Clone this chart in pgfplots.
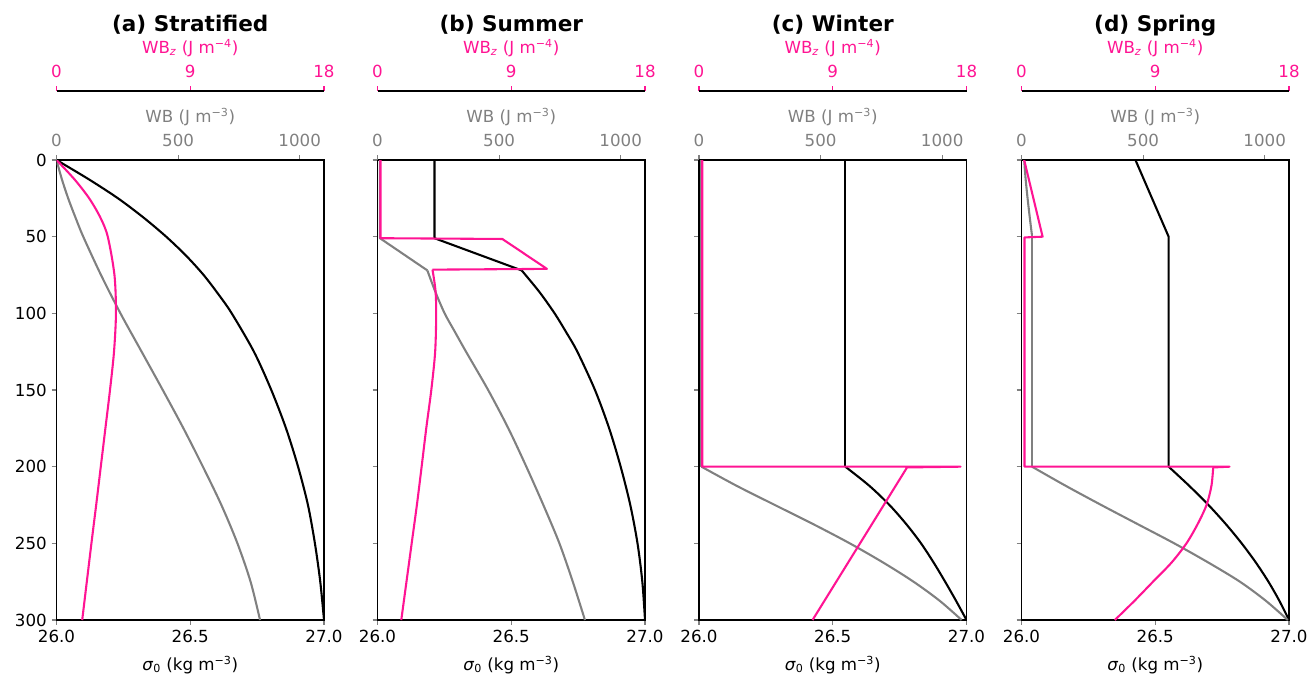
\documentclass[border=0pt]{standalone}
\usepackage{fontspec}
\setmainfont{DejaVu Sans}
\usepackage{pgfplots}
\pgfplotsset{compat=1.18}
\definecolor{wbz}{RGB}{255,20,147}
\definecolor{wbg}{RGB}{128,128,128}
\pgfplotsset{
  common/.style={scale only axis, width=192.6pt, height=331.2pt, ymin=0, ymax=300, y dir=reverse,
    anchor=north west, tick align=outside, major tick length=3.5pt,
    every tick/.append style={line width=0.8pt}, axis line style={line width=0.8pt},
    ticklabel style={font=\fontsize{12}{14}\selectfont},
    label style={font=\fontsize{12}{14}\selectfont},
    /pgf/number format/assume math mode=true},
  mainax/.style={common, xmin=26, xmax=27, xtick={26,26.5,27}, xticklabels={26.0,26.5,27.0},
    xtick pos=bottom, ytick={0,50,100,150,200,250,300}, ytick pos=left,
    xlabel={\textit{σ}\textsubscript{0} (kg m\textsuperscript{−3})},
    xlabel style={at={(axis description cs:0.5,0)}, anchor=center, yshift=-32.4pt}},
  wbax/.style={common, xmin=0, xmax=1100, axis x line*=top, hide y axis, xtick={0,500,1000},
    xticklabels={0,500,1000}, xtick style={color=wbg}, xticklabel style={text=wbg, yshift=2.5pt},
    xlabel={WB (J m\textsuperscript{−3})},
    xlabel style={text=wbg, at={(axis description cs:0.5,1)}, anchor=center, yshift=31pt}},
  pinkax/.style={common, xmin=0, xmax=18, hide axis},
  spineax/.style={common, height=10pt, ymin=0, ymax=1, y dir=normal, xmin=0, xmax=18,
    axis x line*=top, hide y axis, xtick={0,9,18}, xticklabels={0,9,18},
    xtick style={color=wbz}, xticklabel style={text=wbz, yshift=2.5pt},
    xlabel={WB\textsubscript{\textit{z}} (J m\textsuperscript{−4})},
    xlabel style={text=wbz, at={(axis description cs:0.5,1)}, anchor=center, yshift=31pt}},
  lin/.style={line width=1.5pt, line join=round},
  sm/.style={line width=1.5pt, smooth, tension=0.5}
}
\newcommand{\titlenode}[2]{\node[anchor=base, font=\bfseries\fontsize{15.5}{18}\selectfont] at (#1,-23.0pt) {#2};}
\begin{document}
\begin{tikzpicture}
\useasboundingbox (0,0) rectangle (942.48pt,-486.72pt);
% ===== (a) Stratified =====
\begin{axis}[mainax, at={(40.68pt,-115.2pt)}, yticklabels={0,50,100,150,200,250,300}]
  \addplot[sm, black] coordinates {(26.0,0) (26.12,12.5) (26.23,25) (26.325,37.5) (26.41,50) (26.485,62.5) (26.55,75) (26.605,87.5) (26.655,100) (26.738,125) (26.803,150) (26.858,175) (26.903,200) (26.94,225) (26.966,250) (26.986,275) (27.0,300)};
\end{axis}
\begin{axis}[wbax, at={(40.68pt,-115.2pt)}]
  \addplot[sm, wbg] coordinates {(0,0) (22,12.5) (48,25) (78,37.5) (110,50) (183,75) (263,100) (350,125) (437,150) (522,175) (602,200) (678,225) (744,250) (798,275) (837,300)};
\end{axis}
\begin{axis}[pinkax, at={(40.68pt,-115.2pt)}]
  \addplot[sm, wbz] coordinates {(0,0) (1.2,12.5) (2.2,25) (2.95,37.5) (3.45,50) (3.9,75) (4.0,100) (3.87,125) (3.6,150) (3.29,175) (2.98,200) (2.67,225) (2.35,250) (2.04,275) (1.73,300)};
\end{axis}
\begin{axis}[spineax, at={(40.68pt,-65.52pt)}]
\end{axis}
\titlenode{136.98pt}{(a) Stratified}
% ===== (b) Summer =====
\begin{axis}[mainax, at={(271.8pt,-115.2pt)}, yticklabels={}]
  \addplot[lin, black] coordinates {(26.213,0) (26.213,51) (26.539,72)};
  \addplot[sm, black] coordinates {(26.539,72) (26.605,86) (26.662,100) (26.706,112.5) (26.747,125) (26.813,150) (26.866,175) (26.909,200) (26.945,225) (26.972,250) (26.99,275) (27.0,300)};
\end{axis}
\begin{axis}[wbax, at={(271.8pt,-115.2pt)}]
  \addplot[lin, wbg] coordinates {(10,0) (10,51) (205,72)};
  \addplot[sm, wbg] coordinates {(205,72) (238,86) (276,100) (318,112) (364,125) (455,150) (538,175) (612,200) (682,225) (748,250) (803,275) (853,300)};
\end{axis}
\begin{axis}[pinkax, at={(271.8pt,-115.2pt)}]
  \addplot[lin, wbz] coordinates {(0.2,0) (0.2,51) (8.4,51.5) (11.4,71) (3.7,71.5)};
  \addplot[sm, wbz] coordinates {(3.7,71.5) (3.9,85) (3.95,100) (3.88,125) (3.62,150) (3.28,175) (2.97,200) (2.65,225) (2.3,250) (1.95,275) (1.6,300)};
\end{axis}
\begin{axis}[spineax, at={(271.8pt,-65.52pt)}]
\end{axis}
\titlenode{368.1pt}{(b) Summer}
% ===== (c) Winter =====
\begin{axis}[mainax, at={(503.28pt,-115.2pt)}, yticklabels={}]
  \addplot[lin, black] coordinates {(26.547,0) (26.547,200)};
  \addplot[sm, black] coordinates {(26.547,200) (26.637,212.5) (26.712,225) (26.775,237.5) (26.83,250) (26.877,262.5) (26.92,275) (26.961,287.5) (27.0,300)};
\end{axis}
\begin{axis}[wbax, at={(503.28pt,-115.2pt)}]
  \addplot[lin, wbg] coordinates {(10,0) (10,200)};
  \addplot[sm, wbg] coordinates {(10,200) (155,212.5) (312,225) (470,237.5) (620,250) (757,262.5) (882,275) (990,287.5) (1080,300)};
\end{axis}
\begin{axis}[pinkax, at={(503.28pt,-115.2pt)}]
  \addplot[lin, wbz] coordinates {(0.22,0) (0.22,200) (17.6,200) (14.0,200.5) (7.64,300)};
\end{axis}
\begin{axis}[spineax, at={(503.28pt,-65.52pt)}]
\end{axis}
\titlenode{599.6pt}{(c) Winter}
% ===== (d) Spring =====
\begin{axis}[mainax, at={(735.48pt,-115.2pt)}, yticklabels={}]
  \addplot[lin, black] coordinates {(26.426,0) (26.55,50) (26.55,200)};
  \addplot[sm, black] coordinates {(26.55,200) (26.627,212.5) (26.699,225) (26.764,237.5) (26.823,250) (26.876,262.5) (26.923,275) (26.964,287.5) (27.0,300)};
\end{axis}
\begin{axis}[wbax, at={(735.48pt,-115.2pt)}]
  \addplot[sm, wbg] coordinates {(11,0) (17,12.5) (25,25) (34,37.5) (43,49)};
  \addplot[lin, wbg] coordinates {(43,49) (43,200)};
  \addplot[sm, wbg] coordinates {(43,200) (182,212.5) (328,225) (478,237.5) (628,250) (768,262.5) (898,275) (1005,287.5) (1095,300)};
\end{axis}
\begin{axis}[pinkax, at={(735.48pt,-115.2pt)}]
  \addplot[lin, wbz] coordinates {(0.18,0) (1.42,50) (0.2,50.5) (0.2,200) (14.0,200) (12.9,200.5)};
  \addplot[sm, wbz] coordinates {(12.9,200.5) (12.78,212.5) (12.45,225) (11.85,237.5) (11.1,250) (10.1,262.5) (8.85,275) (7.6,287.5) (6.28,300)};
\end{axis}
\begin{axis}[spineax, at={(735.48pt,-65.52pt)}]
\end{axis}
\titlenode{831.8pt}{(d) Spring}
\end{tikzpicture}
\end{document}
